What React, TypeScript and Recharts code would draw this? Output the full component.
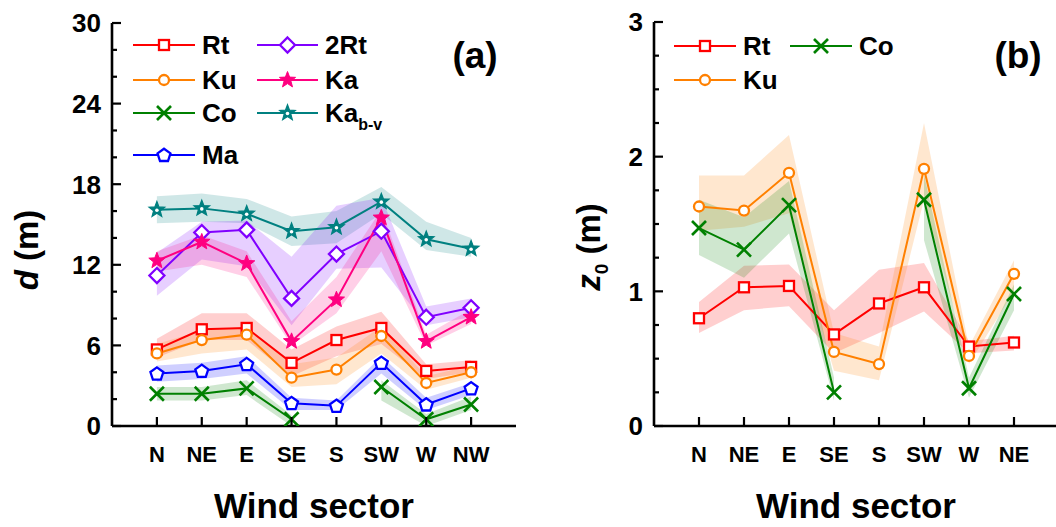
import React from 'react';
import { ComposedChart, Line, Area, XAxis, YAxis } from 'recharts';

// panel (a): displacement height d (m)
const sectorsA = ['N', 'NE', 'E', 'SE', 'S', 'SW', 'W', 'NW'];
const rtA = [5.7, 7.2, 7.3, 4.7, 6.4, 7.3, 4.1, 4.4];
const rtALo = [5.1, 6.4, 6.4, 3.7, 5.2, 6.1, 3.5, 4.0];
const rtAHi = [6.5, 8.4, 8.4, 5.7, 7.4, 8.5, 4.6, 4.9];
const kuA = [5.4, 6.4, 6.8, 3.6, 4.2, 6.7, 3.2, 4.0];
const kuALo = [4.8, 5.4, 5.7, 2.9, 3.1, 5.4, 2.7, 3.6];
const kuAHi = [6.1, 7.1, 7.4, 4.6, 5.1, 7.4, 3.7, 4.5];
const coA = [2.4, 2.4, 2.8, 0.5, null, 2.9, 0.5, 1.6];
const coALo = [1.9, 1.9, 2.3, 0, null, 1.9, 0, 1.2];
const coAHi = [2.9, 2.9, 3.4, 0.8, null, 3.4, 0.9, 2.2];
const maA = [3.9, 4.1, 4.6, 1.7, 1.5, 4.7, 1.6, 2.8];
const maALo = [3.3, 3.5, 3.9, 1.2, 1.2, 3.9, 1.2, 2.3];
const maAHi = [4.5, 4.7, 5.2, 2.1, 1.9, 5.2, 2.1, 3.2];
const rt2A = [11.2, 14.4, 14.6, 9.5, 12.8, 14.5, 8.1, 8.8];
const rt2ALo = [9.7, 12.4, 11.9, 7.5, 11.7, 11.8, 7.5, 8.1];
const rt2AHi = [12.9, 15.2, 15.3, 12.6, 16.4, 17.0, 8.9, 9.5];
const kaA = [12.3, 13.7, 12.1, 6.3, 9.4, 15.5, 6.3, 8.1];
const kaALo = [11.5, 12.0, 11.1, 6.0, 8.4, 13.0, 6.0, 7.6];
const kaAHi = [13.0, 14.2, 13.0, 7.8, 11.1, 16.1, 6.8, 8.7];
const kabvA = [16.1, 16.2, 15.8, 14.5, 14.8, 16.7, 13.9, 13.2];
const kabvALo = [15.1, 15.2, 15.1, 13.4, 13.6, 15.8, 13.1, 12.6];
const kabvAHi = [17.1, 17.3, 16.9, 15.6, 16.0, 17.8, 15.2, 14.0];
const ticksA = [0, 2, 4, 6, 8, 10, 12, 14, 16, 18, 20, 22, 24, 26, 28, 30];

// panel (b): roughness length z0 (m)
const sectorsB = ['N', 'NE', 'E', 'SE', 'S', 'SW', 'W', 'NE'];
const rtB = [0.8, 1.03, 1.04, 0.68, 0.91, 1.03, 0.59, 0.62];
const rtBLo = [0.69, 0.86, 0.89, 0.54, 0.69, 0.85, 0.54, 0.56];
const rtBHi = [0.92, 1.19, 1.2, 0.86, 1.16, 1.21, 0.63, 0.67];
const kuB = [1.63, 1.6, 1.88, 0.55, 0.46, 1.91, 0.52, 1.13];
const kuBLo = [1.45, 1.48, 1.58, 0.41, 0.34, 1.68, 0.46, 1.0];
const kuBHi = [1.86, 1.86, 2.16, 0.69, 0.59, 2.25, 0.59, 1.23];
const coB = [1.47, 1.31, 1.64, 0.25, null, 1.68, 0.28, 0.98];
const coBLo = [1.27, 1.1, 1.43, 0.19, null, 1.38, 0.21, 0.86];
const coBHi = [1.68, 1.55, 1.82, 0.36, null, 1.87, 0.36, 1.05];
const ticksB = [0, 0.25, 0.5, 0.75, 1, 1.25, 1.5, 1.75, 2, 2.25, 2.5, 2.75, 3];

const xTicks = [1, 2, 3, 4, 5, 6, 7, 8];

const RED = '#ff0000';
const ORANGE = '#ff8000';
const GREEN = '#008000';
const BLUE = '#0000ff';
const PURPLE = '#8000ff';
const PINK = '#ff0080';
const TEAL = '#008080';
const FONT = '"Liberation Sans", Arial, sans-serif';

type Series = { key: string; color: string; shape: string; vals: (number | null)[]; lo: (number | null)[]; hi: (number | null)[] };

const seriesA: Series[] = [
  { key: 'Kabv', color: TEAL, shape: 'starOpen', vals: kabvA, lo: kabvALo, hi: kabvAHi },
  { key: 'Rt2', color: PURPLE, shape: 'diamond', vals: rt2A, lo: rt2ALo, hi: rt2AHi },
  { key: 'Ka', color: PINK, shape: 'star', vals: kaA, lo: kaALo, hi: kaAHi },
  { key: 'Rt', color: RED, shape: 'square', vals: rtA, lo: rtALo, hi: rtAHi },
  { key: 'Ku', color: ORANGE, shape: 'circle', vals: kuA, lo: kuALo, hi: kuAHi },
  { key: 'Ma', color: BLUE, shape: 'pentagon', vals: maA, lo: maALo, hi: maAHi },
  { key: 'Co', color: GREEN, shape: 'cross', vals: coA, lo: coALo, hi: coAHi },
];

const seriesB: Series[] = [
  { key: 'Rt', color: RED, shape: 'square', vals: rtB, lo: rtBLo, hi: rtBHi },
  { key: 'Ku', color: ORANGE, shape: 'circle', vals: kuB, lo: kuBLo, hi: kuBHi },
  { key: 'Co', color: GREEN, shape: 'cross', vals: coB, lo: coBLo, hi: coBHi },
];

function buildRows(sectors: string[], series: Series[]) {
  return sectors.map((s, i) => {
    const row: any = { x: i + 1, sector: s };
    series.forEach((se) => {
      row[se.key] = se.vals[i];
      row[se.key + 'Band'] = [se.lo[i], se.hi[i]];
    });
    return row;
  });
}

const rowsA = buildRows(sectorsA, seriesA);
const rowsB = buildRows(sectorsB, seriesB);

function starPoints(cx: number, cy: number, R: number, r: number) {
  const pts: string[] = [];
  for (let k = 0; k < 10; k++) {
    const a = ((-90 + k * 36) * Math.PI) / 180;
    const rad = k % 2 ? r : R;
    pts.push(`${cx + rad * Math.cos(a)},${cy + rad * Math.sin(a)}`);
  }
  return pts.join(' ');
}

function polyPoints(cx: number, cy: number, R: number, n: number) {
  const pts: string[] = [];
  for (let k = 0; k < n; k++) {
    const a = ((-90 + (k * 360) / n) * Math.PI) / 180;
    pts.push(`${cx + R * Math.cos(a)},${cy + R * Math.sin(a)}`);
  }
  return pts.join(' ');
}

function Marker({ shape, color, cx, cy }: { shape: string; color: string; cx: number; cy: number }) {
  const sw = 2.3;
  switch (shape) {
    case 'square':
      return <rect x={cx - 5} y={cy - 5} width={10} height={10} fill="#fff" stroke={color} strokeWidth={sw} />;
    case 'circle':
      return <circle cx={cx} cy={cy} r={5} fill="#fff" stroke={color} strokeWidth={sw} />;
    case 'cross':
      return (
        <g stroke={color} strokeWidth={2.6}>
          <line x1={cx - 7} y1={cy - 7} x2={cx + 7} y2={cy + 7} />
          <line x1={cx - 7} y1={cy + 7} x2={cx + 7} y2={cy - 7} />
        </g>
      );
    case 'pentagon':
      return <polygon points={polyPoints(cx, cy + 0.5, 6.8, 5)} fill="#fff" stroke={color} strokeWidth={sw} />;
    case 'diamond':
      return <polygon points={polyPoints(cx, cy, 7.5, 4)} fill="#fff" stroke={color} strokeWidth={sw} />;
    case 'star':
      return <polygon points={starPoints(cx, cy, 8.5, 3.6)} fill={color} stroke={color} strokeWidth={1} />;
    case 'starOpen':
      return (
        <g>
          <polygon points={starPoints(cx, cy, 8.2, 3.5)} fill={color} stroke={color} strokeWidth={1.2} />
          <circle cx={cx} cy={cy + 0.5} r={1.8} fill="#fff" />
        </g>
      );
    default:
      return null;
  }
}

const makeYTick = (majorStep: number) => (props: any) => {
  const { x, y, payload } = props;
  const v = payload.value;
  const q = v / majorStep;
  const major = Math.abs(q - Math.round(q)) < 1e-6;
  return (
    <g>
      <line x1={x} x2={x + (major ? 9 : 5)} y1={y} y2={y} stroke="#000" strokeWidth={2.2} />
      {major && (
        <text x={x - 11} y={y} dy="0.36em" textAnchor="end" fontSize={26} fontWeight="bold" fontFamily={FONT} fill="#000">
          {v}
        </text>
      )}
    </g>
  );
};

const makeXTick = (sectors: string[]) => (props: any) => {
  const { x, y, payload } = props;
  return (
    <g>
      <line x1={x} x2={x} y1={y} y2={y - 9} stroke="#000" strokeWidth={2.2} />
      <text x={x} y={y + 36} textAnchor="middle" fontSize={22} fontWeight="bold" fontFamily={FONT} fill="#000">
        {sectors[payload.value - 1]}
      </text>
    </g>
  );
};

const axisLine = { stroke: '#000', strokeWidth: 2.6 };

function Panel({ rows, series, sectors, yMax, yTicks, majorStep, width, margin, yWidth }: any) {
  return (
    <ComposedChart width={width} height={527} data={rows} margin={margin}>
      <XAxis dataKey="x" type="number" domain={[0, 9]} ticks={xTicks} tick={makeXTick(sectors)} tickSize={0} tickMargin={0} tickLine={false} axisLine={axisLine} height={101} interval={0} />
      <XAxis xAxisId="top" orientation="top" type="number" domain={[0, 9]} tick={false} tickLine={false} axisLine={axisLine} height={0} />
      <YAxis type="number" domain={[0, yMax]} ticks={yTicks} tick={makeYTick(majorStep)} tickSize={0} tickMargin={0} tickLine={false} axisLine={axisLine} width={yWidth} interval={0} allowDataOverflow />
      <YAxis yAxisId="right" orientation="right" type="number" domain={[0, yMax]} tick={false} tickLine={false} axisLine={axisLine} width={0} />
      {series.map((s: Series) => (
        <Area
          key={s.key + 'Band'}
          type="linear"
          dataKey={s.key + 'Band'}
          stroke="none"
          fill={s.color}
          fillOpacity={0.19}
          isAnimationActive={false}
          activeDot={false}
          dot={false}
        />
      ))}
      {series.map((s: Series) => (
        <Line
          key={s.key}
          type="linear"
          dataKey={s.key}
          stroke={s.color}
          strokeWidth={2}
          isAnimationActive={false}
          activeDot={false}
          dot={(p: any) =>
            p.value == null || p.cx == null ? (
              <g key={`${s.key}-${p.index}`} />
            ) : (
              <g key={`${s.key}-${p.index}`}>
                <Marker shape={s.shape} color={s.color} cx={p.cx} cy={p.cy} />
              </g>
            )
          }
        />
      ))}
    </ComposedChart>
  );
}

function LegendItem({ x1, x2, y, shape, color, label, sub }: any) {
  return (
    <g>
      <line x1={x1} x2={x2} y1={y} y2={y} stroke={color} strokeWidth={2} />
      <Marker shape={shape} color={color} cx={(x1 + x2) / 2} cy={y} />
      <text x={x2 + 7} y={y + 9} fontSize={26} fontWeight="bold" fontFamily={FONT} fill="#000">
        {label}
        {sub && (
          <tspan fontSize={16} dy={8}>
            {sub}
          </tspan>
        )}
      </text>
    </g>
  );
}

export default function App() {
  return (
    <div style={{ position: 'absolute', left: 0, top: 0, width: 1056, height: 527, overflow: 'hidden', background: '#fff', fontFamily: FONT }}>
      <div style={{ position: 'absolute', left: 0, top: 0 }}>
        <Panel rows={rowsA} series={seriesA} sectors={sectorsA} yMax={30} yTicks={ticksA} majorStep={6} width={530} yWidth={112} margin={{ top: 23, right: 14, left: 0, bottom: 0 }} />
      </div>
      <div style={{ position: 'absolute', left: 530, top: 0 }}>
        <Panel rows={rowsB} series={seriesB} sectors={sectorsB} yMax={3} yTicks={ticksB} majorStep={1} width={540} yWidth={124} margin={{ top: 22, right: 11, left: 0, bottom: 0 }} />
      </div>
      <svg width={1056} height={527} style={{ position: 'absolute', left: 0, top: 0, pointerEvents: 'none' }}>
        <text transform="translate(38,250) rotate(-90)" textAnchor="middle" fontSize={33} fontWeight="bold" fontFamily={FONT}>
          <tspan fontStyle="italic">d</tspan> (m)
        </text>
        <text transform="translate(600,247) rotate(-90)" textAnchor="middle" fontSize={33} fontWeight="bold" fontFamily={FONT}>
          <tspan fontStyle="italic">z</tspan>
          <tspan fontSize={19} dy={8}>0</tspan>
          <tspan dy={-8}> (m)</tspan>
        </text>
        <text x={314} y={518} textAnchor="middle" fontSize={35} fontWeight="bold" fontFamily={FONT}>Wind sector</text>
        <text x={856} y={518} textAnchor="middle" fontSize={35} fontWeight="bold" fontFamily={FONT}>Wind sector</text>
        <text x={475} y={68} textAnchor="middle" fontSize={37} fontWeight="bold" fontFamily={FONT}>(a)</text>
        <text x={1018} y={68} textAnchor="middle" fontSize={37} fontWeight="bold" fontFamily={FONT}>(b)</text>

        <LegendItem x1={133} x2={195} y={45} shape="square" color={RED} label="Rt" />
        <LegendItem x1={133} x2={195} y={80} shape="circle" color={ORANGE} label="Ku" />
        <LegendItem x1={133} x2={195} y={113} shape="cross" color={GREEN} label="Co" />
        <LegendItem x1={133} x2={195} y={155} shape="pentagon" color={BLUE} label="Ma" />
        <LegendItem x1={257} x2={318} y={45} shape="diamond" color={PURPLE} label="2Rt" />
        <LegendItem x1={257} x2={318} y={80} shape="star" color={PINK} label="Ka" />
        <LegendItem x1={257} x2={318} y={113} shape="starOpen" color={TEAL} label="Ka" sub="b-v" />

        <LegendItem x1={674} x2={736} y={46} shape="square" color={RED} label="Rt" />
        <LegendItem x1={674} x2={736} y={80} shape="circle" color={ORANGE} label="Ku" />
        <LegendItem x1={790} x2={852} y={46} shape="cross" color={GREEN} label="Co" />
      </svg>
    </div>
  );
}
